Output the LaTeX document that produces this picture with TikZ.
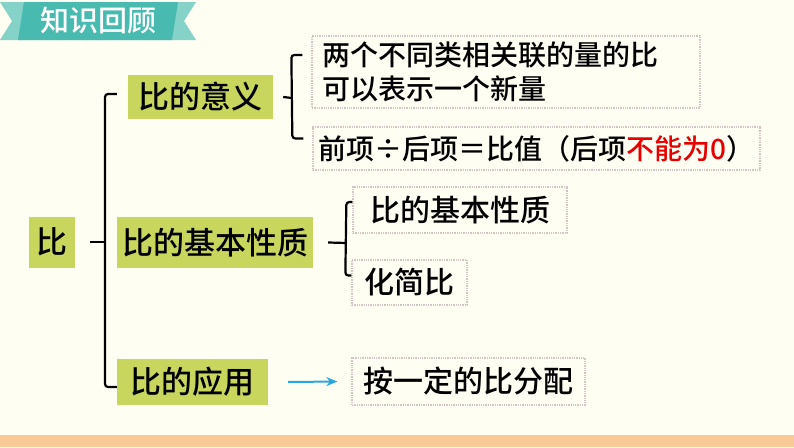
\documentclass[tikz,border=0pt]{standalone}
\usepackage{fontspec}
\newfontfamily\cjk{Noto Sans CJK SC Medium}
\usetikzlibrary{positioning,arrows.meta}
\definecolor{paper}{RGB}{255,254,243}
\definecolor{leaf}{RGB}{200,214,94}
\definecolor{tealdark}{RGB}{72,186,176}
\definecolor{teallight}{RGB}{132,210,200}
\definecolor{dotgray}{RGB}{210,196,196}
\definecolor{bar}{RGB}{250,201,152}
\definecolor{arrowblue}{RGB}{40,168,224}
\definecolor{warn}{RGB}{230,0,0}

\begin{document}
\begin{tikzpicture}[x=1pt,y=-1pt,
  greenbox/.style={fill=leaf, inner sep=0pt, font=\cjk\fontsize{31}{34}\selectfont},
  dotbox/.style={draw=dotgray, densely dotted, line width=1.3pt, inner sep=0pt, font=\cjk\fontsize{30}{34}\selectfont},
  brace/.style={line width=2.2pt, rounded corners=3pt}]
  \useasboundingbox (0,0) rectangle (794,447);
  \fill[paper] (0,0) rectangle (794,447);
  \fill[bar] (0,435) rectangle (794,447);

  % title ribbon
  \fill[teallight] (0,2)--(196,2)--(184,21)--(196,40)--(0,40)--(12,21)--cycle;
  \fill[tealdark] (24,2)--(178,2)--(172,40)--(18,40)--cycle;
  \node[text=white, font=\cjk\fontsize{29}{30}\selectfont] (title) at (98,21) {知识回顾};

  % left column
  \node[greenbox, minimum width=46, minimum height=51] (bi) at (52,242) {比};
  \node[greenbox, minimum width=145, minimum height=44] (yiyi) at (200.5,97) {比的意义};
  \node[greenbox, minimum width=196, minimum height=51] (xingzhi) at (215,242.5) {比的基本性质};
  \node[greenbox, minimum width=151, minimum height=46] (yingyong) at (192.5,382) {比的应用};

  % right column
  \node[dotbox, minimum height=72, text width=368, inner xsep=10pt, align=left,
        font=\cjk\fontsize{28}{34}\selectfont] (yiyiA) at (506,72)
        {两个不同类相关联的量的比\\可以表示一个新量};
  \node[dotbox, minimum width=447, minimum height=43, font=\cjk\fontsize{28}{34}\selectfont] (yiyiB) at (536.5,148.5)
        {前项\makebox[1em]{÷}后项＝比值（后项\textcolor{warn}{不能为0}）};
  \node[dotbox, minimum width=214, minimum height=46] (xingzhiA) at (460,210) {比的基本性质};
  \node[dotbox, minimum width=115, minimum height=45] (xingzhiB) at (409.5,282.5) {化简比};
  \node[dotbox, minimum width=233, minimum height=47] (yingyongA) at (468.5,381.5) {按一定的比分配};

  % braces
  \coordinate (spine) at (105,242);
  \draw[brace] ([xshift=15pt]bi.east) -- (spine);
  \draw[brace] ([shift={(-11,-3)}]yiyi.west) -- ([yshift=3pt]yiyi.west -| spine)
        -- ([yshift=-5pt]yingyong.west -| spine) -- ([shift={(0,5)}]yingyong.west);
  \coordinate (spineA) at (292,98);
  \draw[brace] ([xshift=10pt]yiyi.east) -- (spineA);
  \draw[brace] ([shift={(-9,-17)}]yiyiA.west) -- ([shift={(-20,-17)}]yiyiA.west)
        -- ([shift={(-20,-10)}]yiyiB.west) -- ([shift={(-9,-10)}]yiyiB.west);
  \coordinate (spineB) at (347,243);
  \draw[brace] ([xshift=15pt]xingzhi.east) -- (spineB);
  \draw[brace] ([shift={(0,-8)}]xingzhiA.west) -- ([shift={(-6,-8)}]xingzhiA.west)
        -- ([shift={(-6,-7)}]xingzhiB.west) -- ([shift={(0,-7)}]xingzhiB.west);

  % arrow
  \draw[arrowblue, line width=2pt, -{Stealth[length=11pt,width=9pt]}]
        ([xshift=20pt]yingyong.east) -- ([xshift=-14pt]yingyongA.west);
\end{tikzpicture}
\end{document}
